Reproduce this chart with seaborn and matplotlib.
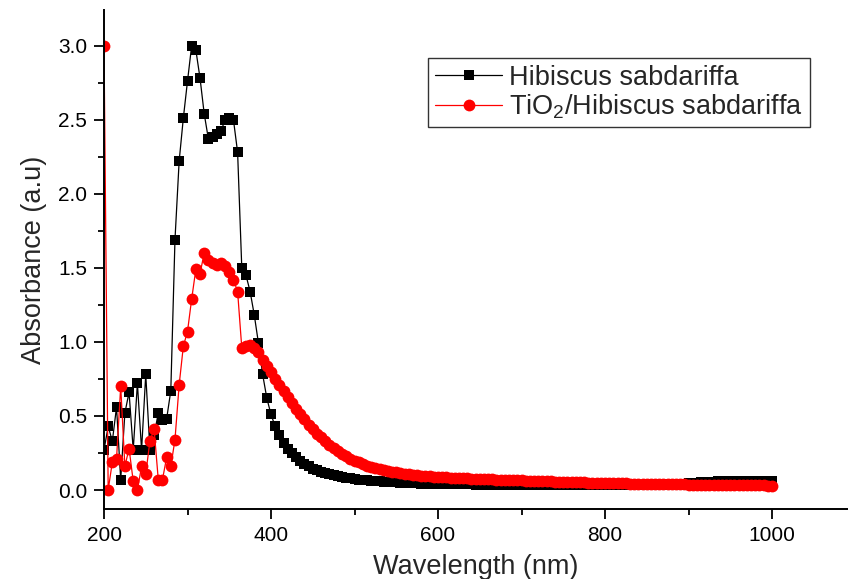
import numpy as np
import pandas as pd
import matplotlib
matplotlib.use("Agg")
import matplotlib.pyplot as plt
import seaborn as sns
from matplotlib.ticker import MultipleLocator, FormatStrFormatter

# ---- data (5 nm steps from 200 to 1000 nm) ----
wavelength = list(range(200, 1005, 5))

hibiscus = [
    0.27, 0.43, 0.33, 0.56, 0.07, 0.52, 0.66, 0.27, 0.72, 0.27,   # 200-245
    0.78, 0.27, 0.37, 0.52, 0.47, 0.48, 0.67, 1.69, 2.22, 2.51,   # 250-295
    2.76, 3.00, 2.97, 2.78, 2.54, 2.37, 2.38, 2.40, 2.42, 2.50,   # 300-345
    2.51, 2.50, 2.28, 1.50, 1.45, 1.34, 1.18, 0.99, 0.78, 0.62,   # 350-395
    0.51, 0.43, 0.37, 0.32, 0.28, 0.25, 0.22, 0.195, 0.175, 0.16, # 400-445
    0.145, 0.135, 0.125, 0.115, 0.108, 0.100, 0.094, 0.088, 0.083, 0.079,  # 450-495
    0.075, 0.071, 0.068, 0.065, 0.062, 0.060, 0.058, 0.056, 0.054, 0.052,  # 500-545
    0.051, 0.050, 0.048, 0.047, 0.046, 0.045, 0.044, 0.043, 0.043, 0.042,  # 550-595
    0.041, 0.041, 0.040, 0.040, 0.039, 0.039, 0.038, 0.038, 0.038, 0.037,  # 600-645
    0.037, 0.037, 0.036, 0.036, 0.036, 0.035, 0.035, 0.035, 0.035, 0.034,  # 650-695
    0.034, 0.034, 0.034, 0.034, 0.033, 0.033, 0.033, 0.033, 0.033, 0.033,  # 700-745
    0.033, 0.032, 0.032, 0.032, 0.032, 0.032, 0.032, 0.032, 0.032, 0.032,  # 750-795
    0.032, 0.032, 0.032, 0.032, 0.033, 0.033, 0.033, 0.033, 0.034, 0.034,  # 800-845
    0.034, 0.035, 0.035, 0.036, 0.037, 0.038, 0.039, 0.040, 0.041, 0.043,  # 850-895
    0.045, 0.047, 0.049, 0.051, 0.053, 0.055, 0.057, 0.059, 0.060, 0.061,  # 900-945
    0.062, 0.063, 0.063, 0.064, 0.064, 0.064, 0.063, 0.063, 0.062, 0.061,  # 950-995
    0.058,                                                                 # 1000
]

tio2_hibiscus = [
    3.00, 0.00, 0.19, 0.21, 0.70, 0.16, 0.28, 0.06, 0.00, 0.16,   # 200-245
    0.11, 0.33, 0.41, 0.07, 0.07, 0.22, 0.16, 0.34, 0.71, 0.97,   # 250-295
    1.07, 1.29, 1.49, 1.46, 1.60, 1.55, 1.53, 1.52, 1.53, 1.51,   # 300-345
    1.47, 1.42, 1.34, 0.96, 0.97, 0.98, 0.96, 0.93, 0.88, 0.84,   # 350-395
    0.80, 0.75, 0.71, 0.67, 0.63, 0.59, 0.55, 0.51, 0.48, 0.44,   # 400-445
    0.41, 0.38, 0.355, 0.33, 0.305, 0.285, 0.265, 0.245, 0.228, 0.212,  # 450-495
    0.198, 0.186, 0.175, 0.165, 0.156, 0.148, 0.141, 0.135, 0.129, 0.124,  # 500-545
    0.119, 0.115, 0.111, 0.107, 0.104, 0.101, 0.098, 0.095, 0.093, 0.091,  # 550-595
    0.089, 0.087, 0.085, 0.083, 0.082, 0.080, 0.079, 0.078, 0.077, 0.076,  # 600-645
    0.075, 0.074, 0.073, 0.072, 0.071, 0.070, 0.069, 0.068, 0.067, 0.066,  # 650-695
    0.065, 0.064, 0.063, 0.062, 0.061, 0.060, 0.059, 0.058, 0.057, 0.056,  # 700-745
    0.055, 0.054, 0.053, 0.052, 0.052, 0.051, 0.050, 0.050, 0.049, 0.048,  # 750-795
    0.048, 0.047, 0.046, 0.046, 0.045, 0.045, 0.044, 0.044, 0.043, 0.043,  # 800-845
    0.042, 0.042, 0.041, 0.041, 0.040, 0.040, 0.039, 0.039, 0.038, 0.038,  # 850-895
    0.037, 0.037, 0.036, 0.036, 0.035, 0.035, 0.035, 0.034, 0.034, 0.034,  # 900-945
    0.033, 0.033, 0.033, 0.032, 0.032, 0.032, 0.031, 0.031, 0.031, 0.030,  # 950-995
    0.030,                                                                 # 1000
]

series_labels = ["Hibiscus sabdariffa", r"TiO$_2$/Hibiscus sabdariffa"]

# ---- plot ----
sns.set_theme(style="ticks")
plt.rcParams["font.family"] = ["Liberation Sans", "DejaVu Sans"]
plt.rcParams["mathtext.fontset"] = "custom"
plt.rcParams["mathtext.rm"] = "Liberation Sans"
plt.rcParams["mathtext.it"] = "Liberation Sans:italic"

fig = plt.figure(figsize=(8.48, 5.79), dpi=100)
ax_top, ax_bottom = 10, 509
ax = fig.add_axes([104 / 848, 1 - ax_bottom / 579, 1 - 104 / 848, (ax_bottom - ax_top) / 579])

sns.lineplot(x=wavelength, y=hibiscus, ax=ax, color="black", lw=0.9,
             marker="s", markersize=7.5, markeredgewidth=0, label=series_labels[0])
sns.lineplot(x=wavelength, y=tio2_hibiscus, ax=ax, color="red", lw=0.9,
             marker="o", markersize=8.5, markeredgewidth=0, label=series_labels[1])

ax.set_xlim(200, 1091)
ax.set_ylim(-0.128, 3.24)

ax.xaxis.set_major_locator(MultipleLocator(200))
ax.xaxis.set_minor_locator(MultipleLocator(100))
ax.yaxis.set_major_locator(MultipleLocator(0.5))
ax.yaxis.set_minor_locator(MultipleLocator(0.25))
ax.yaxis.set_major_formatter(FormatStrFormatter("%.1f"))

ax.tick_params(axis="both", which="major", direction="out", length=7, width=1.3,
               labelsize=15, color="black", labelcolor="black", pad=5)
ax.tick_params(axis="both", which="minor", direction="out", length=4, width=1.3,
               color="black")

for side in ["top", "right"]:
    ax.spines[side].set_visible(False)
for side in ["left", "bottom"]:
    ax.spines[side].set_linewidth(1.4)
    ax.spines[side].set_color("black")

ax.set_xlabel("Wavelength (nm)", fontsize=19.5, labelpad=7)
ax.set_ylabel("Absorbance (a.u)", fontsize=19.5, labelpad=8)

leg = ax.legend(loc="upper left",
                bbox_to_anchor=((428 - 104) / 744, (ax_bottom - 58) / (ax_bottom - ax_top)),
                fontsize=19.5, frameon=True, fancybox=False, edgecolor="black",
                borderpad=0.25, labelspacing=0.05, handlelength=2.5,
                handletextpad=0.25, borderaxespad=0)
leg.get_frame().set_linewidth(1.0)

fig.savefig("out.png", dpi=100)
